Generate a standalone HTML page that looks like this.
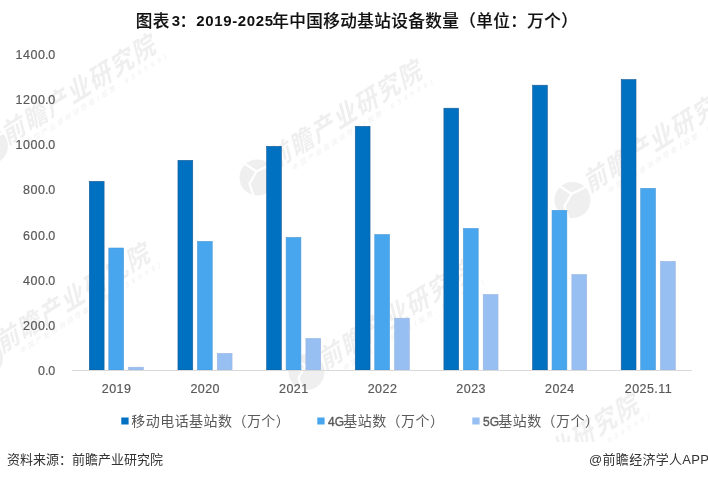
<!DOCTYPE html>
<html><head><meta charset="utf-8">
<style>
html,body{margin:0;padding:0;background:#fff;}
body{width:708px;height:480px;overflow:hidden;}
svg{display:block;}
.ax{font-family:"Liberation Sans","Noto Sans CJK SC",sans-serif;font-size:12.5px;fill:#595959;stroke:#595959;stroke-width:0.2px;}
.xl{letter-spacing:0.45px;}
.title{font-family:"Liberation Sans","Noto Sans CJK SC",sans-serif;font-size:16.6px;font-weight:500;fill:#111;letter-spacing:0.4px;stroke:#111;stroke-width:0.15px;}
.tl{font-size:15px;letter-spacing:0.65px;font-weight:bold;stroke:none;}
.lg{font-family:"Liberation Sans","Noto Sans CJK SC",sans-serif;font-size:14px;fill:#595959;letter-spacing:0.45px;}
.lgl{font-size:12px;letter-spacing:0;stroke:#595959;stroke-width:0.35px;}
.src{font-family:"Liberation Sans","Noto Sans CJK SC",sans-serif;font-size:13px;fill:#333;}
.wmg{fill:#b4b4b4;opacity:0.21;}
.wm{font-family:"Noto Sans CJK SC",sans-serif;font-size:27px;font-weight:bold;}
.wms{font-family:"Liberation Sans","Noto Sans CJK SC",sans-serif;font-size:7px;}
</style></head>
<body>
<svg width="708" height="480" viewBox="0 0 708 480">
<rect width="708" height="480" fill="#fff"/>
<clipPath id="wc"><rect x="0" y="0" width="708" height="441.5"/></clipPath>
<g class="wmg" clip-path="url(#wc)">
<circle cx="-10.0" cy="146.0" r="18"/>
<path transform="translate(-10.0,146.0)" d="M-13 -14 L-1 -6 L13 -13 M-1 -6 L-8 6 L-4 18" fill="none" stroke="#fff" stroke-width="2.2"/>
<g transform="matrix(0.8480,-0.5299,0.2588,0.9659,14.7,128.6)">
<text x="-13.50 15.48 44.45 73.43 102.41 131.39 160.36" y="10.26" class="wm" transform="scale(0.88,1)">前瞻产业研究院</text>
<text x="7.70 16.90 26.10 35.30 44.50 53.70 62.90 72.10 81.30 91.60 96.80 106.00 115.80 123.95 131.65 139.35 147.05 154.75 162.45 170.30" y="21.8" class="wms">中国产业咨询领导者(股票:839599)</text>
</g>
<circle cx="257.5" cy="177.5" r="18"/>
<path transform="translate(257.5,177.5)" d="M-13 -14 L-1 -6 L13 -13 M-1 -6 L-8 6 L-4 18" fill="none" stroke="#fff" stroke-width="2.2"/>
<g transform="matrix(0.8480,-0.5299,0.2588,0.9659,281.0,154.0)">
<text x="-13.50 15.48 44.45 73.43 102.41 131.39 160.36" y="10.26" class="wm" transform="scale(0.88,1)">前瞻产业研究院</text>
<text x="7.70 16.90 26.10 35.30 44.50 53.70 62.90 72.10 81.30 91.60 96.80 106.00 115.80 123.95 131.65 139.35 147.05 154.75 162.45 170.30" y="21.8" class="wms">中国产业咨询领导者(股票:839599)</text>
</g>
<circle cx="572.5" cy="200.0" r="18"/>
<path transform="translate(572.5,200.0)" d="M-13 -14 L-1 -6 L13 -13 M-1 -6 L-8 6 L-4 18" fill="none" stroke="#fff" stroke-width="2.2"/>
<g transform="matrix(0.8480,-0.5299,0.2588,0.9659,597.0,176.5)">
<text x="-13.50 15.48 44.45 73.43 102.41 131.39 160.36" y="10.26" class="wm" transform="scale(0.88,1)">前瞻产业研究院</text>
<text x="7.70 16.90 26.10 35.30 44.50 53.70 62.90 72.10 81.30 91.60 96.80 106.00 115.80 123.95 131.65 139.35 147.05 154.75 162.45 170.30" y="21.8" class="wms">中国产业咨询领导者(股票:839599)</text>
</g>
<circle cx="-15.0" cy="358.0" r="18"/>
<path transform="translate(-15.0,358.0)" d="M-13 -14 L-1 -6 L13 -13 M-1 -6 L-8 6 L-4 18" fill="none" stroke="#fff" stroke-width="2.2"/>
<g transform="matrix(0.8480,-0.5299,0.2588,0.9659,8.8,337.0)">
<text x="-13.50 15.48 44.45 73.43 102.41 131.39 160.36" y="10.26" class="wm" transform="scale(0.88,1)">前瞻产业研究院</text>
<text x="7.70 16.90 26.10 35.30 44.50 53.70 62.90 72.10 81.30 91.60 96.80 106.00 115.80 123.95 131.65 139.35 147.05 154.75 162.45 170.30" y="21.8" class="wms">中国产业咨询领导者(股票:839599)</text>
</g>
<circle cx="306.5" cy="372.0" r="18"/>
<path transform="translate(306.5,372.0)" d="M-13 -14 L-1 -6 L13 -13 M-1 -6 L-8 6 L-4 18" fill="none" stroke="#fff" stroke-width="2.2"/>
<g transform="matrix(0.8480,-0.5299,0.2588,0.9659,332.0,354.0)">
<text x="-13.50 15.48 44.45 73.43 102.41 131.39 160.36" y="10.26" class="wm" transform="scale(0.88,1)">前瞻产业研究院</text>
<text x="7.70 16.90 26.10 35.30 44.50 53.70 62.90 72.10 81.30 91.60 96.80 106.00 115.80 123.95 131.65 139.35 147.05 154.75 162.45 170.30" y="21.8" class="wms">中国产业咨询领导者(股票:839599)</text>
</g>
<circle cx="473.0" cy="511.0" r="18"/>
<path transform="translate(473.0,511.0)" d="M-13 -14 L-1 -6 L13 -13 M-1 -6 L-8 6 L-4 18" fill="none" stroke="#fff" stroke-width="2.2"/>
<g transform="matrix(0.8480,-0.5299,0.2588,0.9659,497.8,487.9)">
<text x="-13.50 15.48 44.45 73.43 102.41 131.39 160.36" y="10.26" class="wm" transform="scale(0.88,1)">前瞻产业研究院</text>
<text x="7.70 16.90 26.10 35.30 44.50 53.70 62.90 72.10 81.30 91.60 96.80 106.00 115.80 123.95 131.65 139.35 147.05 154.75 162.45 170.30" y="21.8" class="wms">中国产业咨询领导者(股票:839599)</text>
</g>
</g>
<text class="title"><tspan x="135.65" y="26.9">图表</tspan><tspan class="tl" x="171.8" y="25.9">3</tspan><tspan x="179.5" y="26.9">：</tspan><tspan class="tl" x="196.2" y="25.9">2019-2025</tspan><tspan x="272.3" y="26.9">年中国移动基站设备数量（单位：万个）</tspan></text>
<text x="38.00 44.90 48.20" y="375.15" class="ax">0.0</text>
<text x="23.00 30.50 38.00 44.90 48.20" y="329.98" class="ax">200.0</text>
<text x="23.00 30.50 38.00 44.90 48.20" y="284.81" class="ax">400.0</text>
<text x="23.00 30.50 38.00 44.90 48.20" y="239.64" class="ax">600.0</text>
<text x="23.00 30.50 38.00 44.90 48.20" y="194.47" class="ax">800.0</text>
<text x="15.50 23.00 30.50 38.00 44.90 48.20" y="149.30" class="ax">1000.0</text>
<text x="15.50 23.00 30.50 38.00 44.90 48.20" y="104.13" class="ax">1200.0</text>
<text x="15.50 23.00 30.50 38.00 44.90 48.20" y="58.96" class="ax">1400.0</text>
<g>
<rect x="89.30" y="181.30" width="14.80" height="188.70" fill="#0070c0" stroke="#1a5f98" stroke-width="0.6"/>
<rect x="108.80" y="248.00" width="14.80" height="122.00" fill="#47a6ee" stroke="#4f9bd6" stroke-width="0.6"/>
<rect x="128.60" y="367.20" width="14.80" height="2.80" fill="#98bff2" stroke="#9bb6e0" stroke-width="0.6"/>
<rect x="177.95" y="160.30" width="14.80" height="209.70" fill="#0070c0" stroke="#1a5f98" stroke-width="0.6"/>
<rect x="197.45" y="241.40" width="14.80" height="128.60" fill="#47a6ee" stroke="#4f9bd6" stroke-width="0.6"/>
<rect x="217.25" y="353.40" width="14.80" height="16.60" fill="#98bff2" stroke="#9bb6e0" stroke-width="0.6"/>
<rect x="266.60" y="146.30" width="14.80" height="223.70" fill="#0070c0" stroke="#1a5f98" stroke-width="0.6"/>
<rect x="286.10" y="237.40" width="14.80" height="132.60" fill="#47a6ee" stroke="#4f9bd6" stroke-width="0.6"/>
<rect x="305.90" y="338.40" width="14.80" height="31.60" fill="#98bff2" stroke="#9bb6e0" stroke-width="0.6"/>
<rect x="355.25" y="126.30" width="14.80" height="243.70" fill="#0070c0" stroke="#1a5f98" stroke-width="0.6"/>
<rect x="374.75" y="234.50" width="14.80" height="135.50" fill="#47a6ee" stroke="#4f9bd6" stroke-width="0.6"/>
<rect x="394.55" y="318.20" width="14.80" height="51.80" fill="#98bff2" stroke="#9bb6e0" stroke-width="0.6"/>
<rect x="443.90" y="108.20" width="14.80" height="261.80" fill="#0070c0" stroke="#1a5f98" stroke-width="0.6"/>
<rect x="463.40" y="228.40" width="14.80" height="141.60" fill="#47a6ee" stroke="#4f9bd6" stroke-width="0.6"/>
<rect x="483.20" y="294.50" width="14.80" height="75.50" fill="#98bff2" stroke="#9bb6e0" stroke-width="0.6"/>
<rect x="532.55" y="85.20" width="14.80" height="284.80" fill="#0070c0" stroke="#1a5f98" stroke-width="0.6"/>
<rect x="552.05" y="210.30" width="14.80" height="159.70" fill="#47a6ee" stroke="#4f9bd6" stroke-width="0.6"/>
<rect x="571.85" y="274.50" width="14.80" height="95.50" fill="#98bff2" stroke="#9bb6e0" stroke-width="0.6"/>
<rect x="621.20" y="79.50" width="14.80" height="290.50" fill="#0070c0" stroke="#1a5f98" stroke-width="0.6"/>
<rect x="640.70" y="188.30" width="14.80" height="181.70" fill="#47a6ee" stroke="#4f9bd6" stroke-width="0.6"/>
<rect x="660.50" y="261.40" width="14.80" height="108.60" fill="#98bff2" stroke="#9bb6e0" stroke-width="0.6"/>
</g>
<rect x="72" y="370" width="620" height="1" fill="#d9d9d9"/>
<text x="116.55" y="393.4" class="ax xl" text-anchor="middle">2019</text>
<text x="205.20" y="393.4" class="ax xl" text-anchor="middle">2020</text>
<text x="293.85" y="393.4" class="ax xl" text-anchor="middle">2021</text>
<text x="382.50" y="393.4" class="ax xl" text-anchor="middle">2022</text>
<text x="471.15" y="393.4" class="ax xl" text-anchor="middle">2023</text>
<text x="559.80" y="393.4" class="ax xl" text-anchor="middle">2024</text>
<text x="648.45" y="393.4" class="ax xl" text-anchor="middle">2025.11</text>
<rect x="121.3" y="417.5" width="7.3" height="7" fill="#0070c0"/>
<text x="131.3" y="426.4" class="lg">移动电话基站数（万个）</text>
<rect x="317.3" y="417.5" width="7.3" height="7" fill="#47a6ee"/>
<text y="426.4" class="lg"><tspan class="lgl" x="328.1">4G</tspan><tspan x="343.25">基站数（万个）</tspan></text>
<rect x="472.3" y="417.5" width="7.3" height="7" fill="#98bff2"/>
<text y="426.4" class="lg"><tspan class="lgl" x="483.1">5G</tspan><tspan x="498.25">基站数（万个）</tspan></text>
<text x="7" y="464" class="src">资料来源：前瞻产业研究院</text>
<text x="709.3" y="464" class="src" text-anchor="end" style="letter-spacing:0.3px">@前瞻经济学人APP</text>
</svg>
</body></html>
